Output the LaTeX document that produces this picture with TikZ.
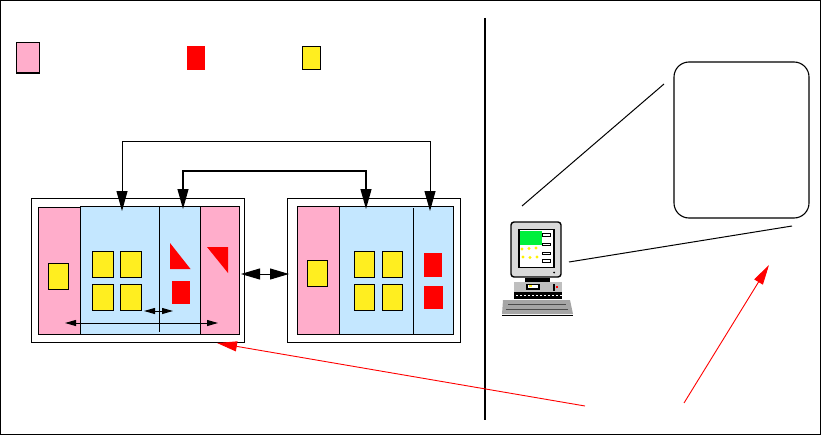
\documentclass[tikz,border=0pt]{standalone}
\usetikzlibrary{arrows.meta,calc}
\definecolor{pinkc}{RGB}{255,173,203}
\definecolor{bluec}{RGB}{196,231,255}
\definecolor{yelc}{RGB}{255,238,32}
\definecolor{redc}{RGB}{255,0,0}
\definecolor{greenc}{RGB}{0,240,60}
\tikzset{
 x=1pt,y=-1pt,
 ln/.style={draw=black,line width=1.1pt},
 pk/.style={ln,fill=pinkc},
 bl/.style={ln,fill=bluec},
 yw/.style={ln,fill=yelc},
 rd/.style={fill=redc},
 bigboth/.style={{Triangle[length=19pt,width=11pt]}-{Triangle[length=19pt,width=11pt]}},
 bigpair/.style={{Triangle[length=20pt,width=11pt]}-{Triangle[length=20pt,width=11pt]}},
 midboth/.style={{Triangle[length=11pt,width=6pt]}-{Triangle[length=11pt,width=6pt]}},
 redarrow/.style={draw=redc,line width=0.9pt,-{Triangle[length=20pt,width=10pt]}},
 conn/.style={draw=black,line width=1pt},
}
\newcommand{\bx}[6]{\node[#1,inner sep=0pt,outer sep=0pt,anchor=north west,minimum width=#4pt-#2pt,minimum height=#5pt-#3pt] (#6) at (#2,#3) {};}
\begin{document}
\begin{tikzpicture}
\useasboundingbox (0,0) rectangle (821,436);
\draw[line width=1.2pt] (0.8,0.8) -- (820.5,0.8) -- (820.5,434.5) -- (0.8,434.5) -- cycle;
\draw[line width=1.8pt] (485,18) -- (485,420);
% legend
\bx{pk}{16.5}{42.5}{39.5}{73}{lgP}
\draw[line width=1.2pt] (16,73) -- (40,73);
\bx{rd}{187}{46}{205}{70}{lgR}
\bx{yw}{302.5}{46.5}{320.5}{69.5}{lgY}
% left unit
\bx{ln}{31.5}{198.5}{244.5}{342.5}{LO}
\bx{pk}{38.5}{207.5}{80.5}{334.5}{LP1}
\bx{pk}{200.5}{206.5}{239.5}{334.5}{LP2}
\bx{bl}{80.5}{206.5}{200.5}{334.5}{LB}
\draw[line width=1pt] (159.5,207) -- (159.5,332);
\bx{yw}{48.5}{263.5}{68.5}{289.5}{LY0}
\bx{yw}{92.5}{251.5}{113.5}{277.5}{LY1}
\bx{yw}{120.5}{251.5}{141.5}{277.5}{LY2}
\bx{yw}{92.5}{284.5}{113.5}{310.5}{LY3}
\bx{yw}{120.5}{284.5}{141.5}{310.5}{LY4}
\fill[rd] (170,243) -- (190.5,269) -- (170,269) -- cycle;
\fill[rd] (207,247) -- (228,247) -- (228,273) -- cycle;
\bx{rd}{172}{281}{190}{304}{LR1}
\coordinate (a1) at (65,323); \coordinate (a2) at (218,323);
\coordinate (b1) at (144,311); \coordinate (b2) at (173,311);
\draw[midboth,line width=1pt] (a1) -- (a2);
\draw[midboth,line width=1pt] (b1) -- (b2);
% right unit
\bx{ln}{287.5}{198.5}{460.5}{342.5}{RO}
\bx{bl}{339.5}{206.5}{453.5}{334.5}{RB}
\bx{pk}{297.5}{206.5}{339.5}{334.5}{RP}
\draw[line width=1pt] (413.5,208) -- (413.5,334);
\bx{yw}{307.5}{260.5}{327.5}{286.5}{RY0}
\bx{yw}{354.5}{251.5}{374.5}{277.5}{RY1}
\bx{yw}{382.5}{251.5}{402.5}{277.5}{RY2}
\bx{yw}{354.5}{284.5}{374.5}{310.5}{RY3}
\bx{yw}{382.5}{284.5}{402.5}{310.5}{RY4}
\bx{rd}{424}{253}{442}{277}{RR1}
\bx{rd}{424}{286}{443}{309}{RR2}
% connectors
\coordinate (p1) at (122,211); \coordinate (p2) at (430,211);
\coordinate (q1) at (183,209); \coordinate (q2) at (366,209);
\draw[conn,bigpair] (p1) -- (122,141) -- (430,141) -- (p2);
\draw[line width=1.2pt,bigpair] (q1) -- (183,171) -- (366,171) -- (q2);
\coordinate (c1) at (241,274); \coordinate (c2) at (289,274);
\draw[bigboth,line width=1pt] (c1) -- (c2);
% right panel
\node[ln,rounded corners=15pt,inner sep=0pt,outer sep=0pt,anchor=north west,minimum width=135pt,minimum height=156pt] (panel) at (674,62) {};
\coordinate (m1) at (664,84); \coordinate (m2) at (522,206);
\coordinate (m3) at (792,226); \coordinate (m4) at (569,262);
\draw[conn] (m1) -- (m2);
\draw[conn] (m3) -- (m4);
\coordinate (s1) at (585,406); \coordinate (s2) at (684,403);
\coordinate (t1) at (217,343); \coordinate (t2) at (769,265);
\draw[redarrow] (s1) -- (t1);
\draw[redarrow] (s2) -- (t2);
% computer
\fill[black!35] (503,300) -- (570,300) -- (573,314) -- (502,314) -- cycle;
\draw[black!70,line width=0.5pt] (508,304) -- (566,304) (506,309) -- (568,309);
\draw[line width=0.7pt] (502,315.5) -- (573,315.5);
\fill[black!25] (514,282) rectangle (562,292);
\fill[black] (514,292) rectangle (562,299);
\foreach \i in {516,520,...,560}{\fill[white] (\i,295) rectangle +(2,1);}
\fill[black] (526,284) rectangle (540,290);
\fill[white] (528,285) rectangle (538,288);
\fill[yelc] (529,285) rectangle (532,287);
\fill[redc] (556,286) rectangle (558,288);
\fill[black] (553,284) rectangle (555,291);
\fill[black] (525,278) rectangle (550,282);
\node[draw=black,line width=1.4pt,fill=black!15,rounded corners=3pt,inner sep=0pt,outer sep=0pt,anchor=north west,minimum width=50pt,minimum height=55pt] (mon) at (511,222) {};
\node[draw=black,line width=1.1pt,fill=white,inner sep=0pt,outer sep=0pt,anchor=north west,minimum width=35pt,minimum height=38pt] (scr) at (519,229.5) {};
\fill[greenc] (519.5,231) rectangle (542,245);
\foreach \yy in {233.5,243,252,259.5}{\draw[line width=0.7pt,fill=white] (542.5,\yy) rectangle (550.5,\yy+2.5);}
\foreach \xx/\yy in {522/249,529/248.5,536/248,523/257,530/257.5,537/257}{\fill[yellow] (\xx,\yy) circle (1.7);}
\fill[black] (554,272.5) circle (1);
\end{tikzpicture}
\end{document}
